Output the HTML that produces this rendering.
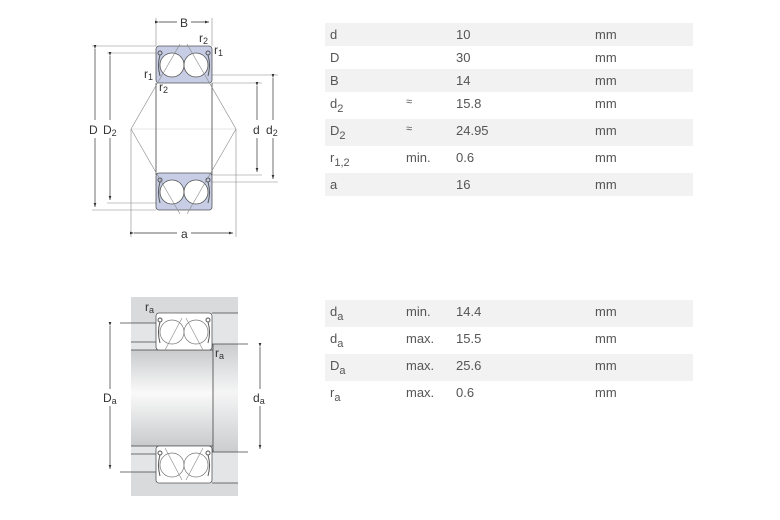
<!DOCTYPE html>
<html><head><meta charset="utf-8"><style>
body{margin:0;width:780px;height:520px;background:#fff;position:relative;font-family:"Liberation Sans",Arial,sans-serif;overflow:hidden}
.t{position:absolute;left:325px;width:368px;color:#555;font-size:13px}
.r{position:relative;height:23px}
.r.s{background:#f2f2f2}
.r span{position:absolute;top:4px}
.c1{left:5px}.c2{left:81px}.c3{left:131px}.c4{left:270px}
sub{font-size:11px;vertical-align:-4px;line-height:0}
</style></head><body>
<div class="t" style="top:23px">
<div class="r s"><span class="c1">d</span><span class="c3">10</span><span class="c4">mm</span></div>
<div class="r"><span class="c1">D</span><span class="c3">30</span><span class="c4">mm</span></div>
<div class="r s"><span class="c1">B</span><span class="c3">14</span><span class="c4">mm</span></div>
<div class="r" style="height:27px"><span class="c1">d<sub>2</sub></span><span class="c2" style="font-size:11px">≈</span><span class="c3">15.8</span><span class="c4">mm</span></div>
<div class="r s" style="height:27px"><span class="c1">D<sub>2</sub></span><span class="c2" style="font-size:11px">≈</span><span class="c3">24.95</span><span class="c4">mm</span></div>
<div class="r" style="height:27px"><span class="c1">r<sub>1,2</sub></span><span class="c2">min.</span><span class="c3">0.6</span><span class="c4">mm</span></div>
<div class="r s"><span class="c1">a</span><span class="c3">16</span><span class="c4">mm</span></div>
</div>
<div class="t" style="top:300px">
<div class="r s" style="height:27px"><span class="c1">d<sub>a</sub></span><span class="c2">min.</span><span class="c3">14.4</span><span class="c4">mm</span></div>
<div class="r" style="height:27px"><span class="c1">d<sub>a</sub></span><span class="c2">max.</span><span class="c3">15.5</span><span class="c4">mm</span></div>
<div class="r s" style="height:27px"><span class="c1">D<sub>a</sub></span><span class="c2">max.</span><span class="c3">25.6</span><span class="c4">mm</span></div>
<div class="r" style="height:27px"><span class="c1">r<sub>a</sub></span><span class="c2">max.</span><span class="c3">0.6</span><span class="c4">mm</span></div>
</div>
<svg width="780" height="520" style="position:absolute;left:0;top:0" font-family="Liberation Sans,Arial,sans-serif" font-size="12" fill="#333">
<defs>
<marker id="a" markerWidth="7" markerHeight="7" refX="6" refY="3.5" orient="auto"><path d="M0,1.5 L6,3.5 L0,5.5z" fill="#333"/></marker>
<linearGradient id="g" x1="0" y1="0" x2="0" y2="1"><stop offset="0" stop-color="#c8cacc"/><stop offset="0.45" stop-color="#fafafa"/><stop offset="1" stop-color="#c8cacc"/></linearGradient>
<g id="brg">
<rect x="0" y="0" width="56" height="37" rx="3" fill="#c6cde4" stroke="#555" stroke-width="0.8"/>
<circle cx="16" cy="19" r="12" fill="#fff" stroke="#555" stroke-width="0.8"/>
<circle cx="40" cy="19" r="12" fill="#fff" stroke="#555" stroke-width="0.8"/>
<path d="M4,9 Q1,19 4,30 M52,9 Q55,19 52,30" fill="none" stroke="#555"/>
<circle cx="4" cy="7" r="2" fill="none" stroke="#555"/><circle cx="52" cy="7" r="2" fill="none" stroke="#555"/>
</g>
<g id="brg2">
<rect x="0" y="0" width="56" height="37" rx="3" fill="#fff" stroke="#555" stroke-width="0.8"/>
<circle cx="16" cy="19" r="12" fill="#fff" stroke="#777" stroke-width="0.7"/>
<circle cx="40" cy="19" r="12" fill="#fff" stroke="#777" stroke-width="0.7"/>
<path d="M4,9 Q1,19 4,30 M52,9 Q55,19 52,30" fill="none" stroke="#555"/>
<circle cx="4" cy="7" r="2" fill="none" stroke="#555"/><circle cx="52" cy="7" r="2" fill="none" stroke="#555"/>
</g>
</defs>
<g stroke="#888" stroke-width="0.6" fill="none">
<line x1="92" y1="46" x2="156" y2="46"/><line x1="92" y1="210" x2="156" y2="210"/>
<line x1="107" y1="53" x2="156" y2="53"/><line x1="107" y1="203" x2="156" y2="203"/>
<line x1="212" y1="83" x2="262" y2="83"/><line x1="212" y1="175" x2="262" y2="175"/>
<line x1="212" y1="75" x2="278" y2="75"/><line x1="212" y1="182" x2="278" y2="182"/>
<line x1="156" y1="18" x2="156" y2="46"/><line x1="212" y1="18" x2="212" y2="46"/>
<line x1="131" y1="129" x2="131" y2="237"/><line x1="236" y1="129" x2="236" y2="237"/>
<line x1="131" y1="129" x2="236" y2="129" stroke="#ccc"/>
</g>
<line x1="156" y1="83" x2="156" y2="175" stroke="#444" stroke-width="0.8"/>
<line x1="212" y1="83" x2="212" y2="175" stroke="#444" stroke-width="0.8"/>
<use href="#brg" x="156" y="46"/>
<use href="#brg" x="156" y="173"/>
<g stroke="#888" stroke-width="0.6">
<line x1="131" y1="129" x2="180" y2="44"/><line x1="131" y1="129" x2="180" y2="214"/>
<line x1="236" y1="129" x2="187" y2="44"/><line x1="236" y1="129" x2="187" y2="214"/>
</g>
<g stroke="#333" stroke-width="0.7">
<line x1="95" y1="49" x2="95" y2="120" marker-start="url(#a)"/><line x1="95" y1="138" x2="95" y2="207" marker-end="url(#a)"/>
<line x1="110" y1="56" x2="110" y2="120" marker-start="url(#a)"/><line x1="110" y1="138" x2="110" y2="200" marker-end="url(#a)"/>
<line x1="257" y1="86" x2="257" y2="120" marker-start="url(#a)"/><line x1="257" y1="138" x2="257" y2="172" marker-end="url(#a)"/>
<line x1="273" y1="78" x2="273" y2="120" marker-start="url(#a)"/><line x1="273" y1="138" x2="273" y2="179" marker-end="url(#a)"/>
<line x1="159" y1="22" x2="177" y2="22" marker-start="url(#a)"/><line x1="191" y1="22" x2="209" y2="22" marker-end="url(#a)"/>
<line x1="134" y1="233" x2="177" y2="233" marker-start="url(#a)"/><line x1="191" y1="233" x2="233" y2="233" marker-end="url(#a)"/>
</g>
<text x="89" y="134">D</text><text x="103" y="134">D<tspan font-size="9" dy="2">2</tspan></text>
<text x="253" y="134">d</text><text x="266" y="134">d<tspan font-size="9" dy="2">2</tspan></text>
<text x="180" y="27">B</text><text x="181" y="238">a</text>
<text x="199" y="42">r<tspan font-size="9" dy="2">2</tspan></text>
<text x="214" y="54">r<tspan font-size="9" dy="2">1</tspan></text>
<text x="144" y="78">r<tspan font-size="9" dy="2">1</tspan></text>
<text x="159" y="91">r<tspan font-size="9" dy="2">2</tspan></text>
<rect x="131" y="297" width="107" height="199" fill="#d8dadc"/>
<rect x="131" y="323" width="25" height="27" fill="#e4e5e6"/>
<rect x="212" y="313" width="26" height="31" fill="#e4e5e6"/>
<rect x="131" y="446" width="25" height="26" fill="#e4e5e6"/>
<rect x="212" y="452" width="26" height="31" fill="#e4e5e6"/>
<rect x="131" y="350" width="82" height="96" fill="url(#g)"/>
<rect x="213" y="344" width="25" height="108" fill="url(#g)" opacity="0.85"/>
<g stroke="#444" stroke-width="0.8" fill="none">
<line x1="120" y1="323" x2="156" y2="323"/><line x1="131" y1="342" x2="156" y2="342"/><line x1="131" y1="350" x2="213" y2="350"/>
<line x1="212" y1="313" x2="238" y2="313"/><line x1="212" y1="344" x2="248" y2="344"/>
<line x1="213" y1="344" x2="213" y2="452"/>
<line x1="131" y1="446" x2="213" y2="446"/><line x1="131" y1="454" x2="156" y2="454"/><line x1="120" y1="472" x2="156" y2="472"/>
<line x1="212" y1="452" x2="248" y2="452"/><line x1="212" y1="483" x2="238" y2="483"/>
</g>
<use href="#brg2" x="156" y="313"/>
<use href="#brg2" x="156" y="446"/>
<g stroke="#888" stroke-width="0.6">
<line x1="165" y1="350" x2="182" y2="318"/><line x1="203" y1="350" x2="186" y2="318"/>
<line x1="165" y1="448" x2="182" y2="480"/><line x1="203" y1="448" x2="186" y2="480"/>
</g>
<g stroke="#333" stroke-width="0.7">
<line x1="110" y1="326" x2="110" y2="389" marker-start="url(#a)"/><line x1="110" y1="406" x2="110" y2="469" marker-end="url(#a)"/>
<line x1="260" y1="347" x2="260" y2="389" marker-start="url(#a)"/><line x1="260" y1="406" x2="260" y2="449" marker-end="url(#a)"/>
</g>
<text x="103" y="402">D<tspan font-size="9" dy="2">a</tspan></text>
<text x="253" y="402">d<tspan font-size="9" dy="2">a</tspan></text>
<text x="145" y="311">r<tspan font-size="9" dy="2">a</tspan></text>
<text x="215" y="357">r<tspan font-size="9" dy="2">a</tspan></text>
</svg>
</body></html>
